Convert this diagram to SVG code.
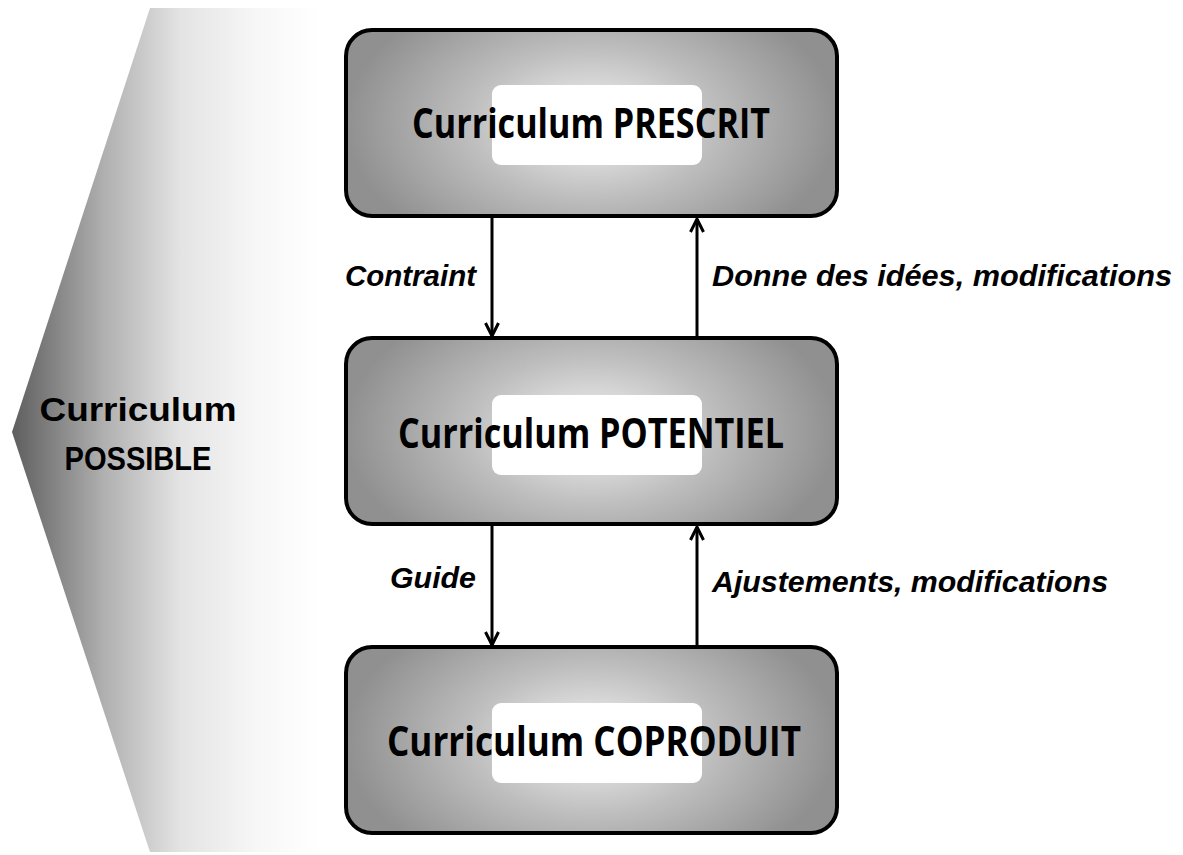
<svg xmlns="http://www.w3.org/2000/svg" width="1183" height="855" viewBox="0 0 1183 855">
<defs>
<linearGradient id="side" x1="12" y1="0" x2="320" y2="0" gradientUnits="userSpaceOnUse">
<stop offset="0" stop-color="#5e5e5e"/>
<stop offset="0.3" stop-color="#b0b0b0"/>
<stop offset="0.55" stop-color="#e4e4e4"/>
<stop offset="0.8" stop-color="#f7f7f7"/>
<stop offset="1" stop-color="#ffffff"/>
</linearGradient>
<radialGradient id="box" cx="0.5" cy="0.5" r="0.5" fx="0.5" fy="0.5" gradientTransform="translate(0.5 0.5) scale(1 1.6) translate(-0.5 -0.5)">
<stop offset="0" stop-color="#f4f4f4"/>
<stop offset="0.5" stop-color="#bebebe"/>
<stop offset="1" stop-color="#909090"/>
</radialGradient>
<marker id="ah" viewBox="0 0 16 16" refX="14" refY="8" markerWidth="16" markerHeight="16" markerUnits="userSpaceOnUse" orient="auto">
<path d="M1,1.5 L14,8 L1,14.5" fill="none" stroke="#000" stroke-width="3"/>
</marker>
<style>
.box{fill:url(#box);stroke:#000;stroke-width:4}
.hl{fill:#fff}
.bt{font-family:"Open Sans","Noto Sans",sans-serif;font-weight:bold;font-size:41px;fill:#000;text-anchor:middle}
.side{font-family:"Liberation Sans",Arial,sans-serif;font-weight:bold;font-size:33px;fill:#000;text-anchor:middle}
.lbl{font-family:"Liberation Sans",Arial,sans-serif;font-weight:bold;font-style:italic;font-size:29px;fill:#000}
.conn{stroke:#000;stroke-width:3;fill:none;marker-end:url(#ah)}
</style>
</defs>
<rect width="1183" height="855" fill="#fff"/>
<g id="possible">
<polygon points="12,432 150,8 330,8 330,852 150,852" fill="url(#side)"/>
<text class="side" x="138" y="421" textLength="197" lengthAdjust="spacingAndGlyphs">Curriculum</text>
<text class="side" x="138" y="470" textLength="147" lengthAdjust="spacingAndGlyphs">POSSIBLE</text>
</g>
<g id="prescrit">
<rect class="box" x="346" y="30" width="491" height="186" rx="26"/>
<rect class="hl" x="492" y="85" width="210" height="80" rx="9"/>
<text class="bt" x="591" y="138" textLength="358" lengthAdjust="spacingAndGlyphs">Curriculum PRESCRIT</text>
</g>
<g id="potentiel">
<rect class="box" x="346" y="338" width="491" height="186" rx="26"/>
<rect class="hl" x="492" y="395" width="210" height="80" rx="9"/>
<text class="bt" x="591" y="448" textLength="386" lengthAdjust="spacingAndGlyphs">Curriculum POTENTIEL</text>
</g>
<g id="coproduit">
<rect class="box" x="346" y="647" width="491" height="186" rx="26"/>
<rect class="hl" x="492" y="703" width="210" height="80" rx="9"/>
<text class="bt" x="594" y="756" textLength="414" lengthAdjust="spacingAndGlyphs">Curriculum COPRODUIT</text>
</g>
<g id="connectors">
<line class="conn" x1="492" y1="218" x2="492" y2="336"/>
<line class="conn" x1="697" y1="336" x2="697" y2="219"/>
<line class="conn" x1="492" y1="526" x2="492" y2="645"/>
<line class="conn" x1="697" y1="645" x2="697" y2="527"/>
<text class="lbl" x="345" y="286" textLength="131" lengthAdjust="spacingAndGlyphs">Contraint</text>
<text class="lbl" x="712" y="286" textLength="460" lengthAdjust="spacingAndGlyphs">Donne des idées, modifications</text>
<text class="lbl" x="390" y="588" textLength="86" lengthAdjust="spacingAndGlyphs">Guide</text>
<text class="lbl" x="712" y="592" textLength="396" lengthAdjust="spacingAndGlyphs">Ajustements, modifications</text>
</g>
</svg>
